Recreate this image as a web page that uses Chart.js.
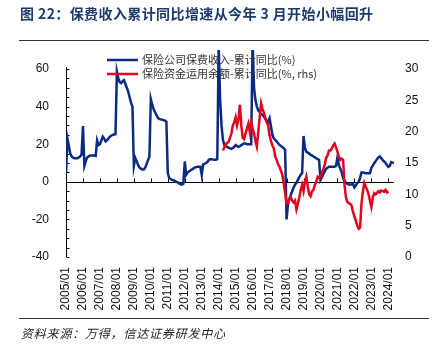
<!DOCTYPE html>
<html>
<head>
<meta charset="utf-8">
<script src="https://cdn.jsdelivr.net/npm/chart.js@4.4.1/dist/chart.umd.min.js"></script>
<style>
  html, body { margin: 0; padding: 0; background: #fff; }
  #wrap { position: relative; width: 439px; height: 356px; overflow: hidden; background: #fff; }
  #c { position: absolute; left: 0; top: 0; }
  .title { position: absolute; left: 20px; top: 3px; font: bold 14px "Noto Sans CJK SC", sans-serif; color: #1d3a6e; letter-spacing: 0.4px; white-space: nowrap; }
  .rule { position: absolute; left: 19px; width: 410px; height: 1px; background: #333; }
  .source { position: absolute; left: 21px; top: 324px; font: italic 12px "Noto Sans CJK SC", sans-serif; color: #222; letter-spacing: 0.8px; white-space: nowrap; }
</style>
</head>
<body>
<div id="wrap">
  <canvas id="c" width="439" height="356"></canvas>
  <div class="title">图 22：保费收入累计同比增速从今年 3 月开始小幅回升</div>
  <div class="rule" style="top:40px"></div>
  <div class="rule" style="top:318px"></div>
  <div class="source">资料来源：万得，信达证券研发中心</div>
</div>
<script>
// ---- data ----
const years = ['2005','2006','2007','2008','2009','2010','2011','2012','2013','2014',
               '2015','2016','2017','2018','2019','2020','2021','2022','2023','2024'];
const months = ['01','02','03','04','05','06','07','08','09','10','11','12'];
const lastLabel = '2024/05';

// 保险公司保费收入-累计同比(%), monthly from 2005/01 (left axis)
const premiumYoY = [
  4, 23, 19, 15, 13.5, 12.8, 12.5, 12.5, 12.5, 13, 13.5, 14.5,          // 2005
  29.7, 8.5, 11, 13, 13.5, 14, 14, 14, 14, 13.8, 22, 19.5,              // 2006
  20, 22, 24, 23, 21.5, 22, 23, 24, 24.5, 25, 25.2, 25.3,               // 2007
  58.6, 55, 53, 52.5, 53.5, 54, 52, 50, 48, 45, 42, 40,                 // 2008
  8.5, 12.7, 11, 9, 7.5, 7, 6.5, 6.5, 7.5, 9.5, 11.5, 13.4,             // 2009
  44, 41, 38.6, 37, 35.5, 34, 33.5, 33.2, 33, 32.8, 32.5, 32,           // 2010
  4.6, 2, 1.5, 1, 0.8, 0.5, 0, -0.3, -0.8, -1.2, -1.5, -1,              // 2011
  10.8, 3.7, 5, 5.5, 6, 6.5, 7, 7.5, 7.8, 8, 8, 8,                      // 2012
  3.7, 9.2, 9.5, 10, 10.5, 11.7, 12, 12, 11.8, 11.7, 11.7, 12,          // 2013
  72, 44, 30, 22.3, 19.6, 19, 18.6, 18.2, 17.8, 17.5, 18, 18.6,         // 2014
  19.6, 19, 18.6, 19, 19.5, 20, 20.5, 20.3, 20, 20, 20, 20,             // 2015
  75, 50, 43.5, 40, 38, 37, 36, 35.6, 34.7, 33.5, 32.5, 31.8,           // 2016
  33.8, 29.4, 25, 23, 22.3, 21.4, 20.5, 19.6, 19, 18.5, 17.9, 17,       // 2017
  -20, -12, -9, -7, -5, -3, -1.5, -0.5, 1, 2.5, 3.7, 4.5,               // 2018
  24.4, 18, 16, 15.5, 15, 14.3, 14, 13.5, 13, 12.5, 12, 11.7,           // 2019
  1, 2.5, 4, 5.5, 7, 7.5, 8, 8, 8, 8, 8, 8.5,                           // 2020
  13, 9, 7, 5, 2, 0.5, -0.5, -1, -1.5, -1.5, -1.5, -1,                  // 2021
  -3, -2, -0.7, 0, 2, 5, 5, 4.8, 4.6, 4.6, 4.6, 4.6,                    // 2022
  7.5, 8.5, 9.9, 11, 12, 13, 13.5, 12.5, 11.5, 10.8, 10, 9,             // 2023
  8, 8.5, 10.5, 10.2, 10                                                 // 2024
];

// 保险资金运用余额-累计同比(%, rhs), monthly from 2014/04 (right axis)
const fundStartLabel = '2014/04';
const fundYoY = [
  17, 17.5, 18, 18.2, 18.4, 19, 19.7, 21, 21.5,                         // 2014/04-12
  22.3, 21, 22, 24.3, 21, 19, 18.8, 19.7, 20.5, 21.3, 20, 21.5,         // 2015
  20.5, 19.7, 18.5, 17.6, 20, 22.3, 24.5, 23.6, 23, 22.1, 21.5, 21,     // 2016
  19.4, 18.5, 17.8, 17.3, 16, 15.5, 14.8, 14.4, 13.8, 13.1, 11.8, 10.2, // 2017
  8.5, 8.6, 9.2, 9.5, 9, 8.7, 9, 7.6, 8.5, 9.5, 10.7, 11.5,             // 2018
  10.5, 12, 12.8, 11.3, 10, 9.7, 10.5, 10.7, 11.5, 12, 12.8, 12.6,      // 2019
  12.8, 13.5, 14, 14.8, 15.8, 16.2, 17, 17, 17.3, 17.8, 18.1, 17.5,     // 2020
  16.8, 16, 15.5, 15.7, 15.5, 11.5, 9.5, 8.8, 8.6, 8.5, 8.2, 7.2,       // 2021
  6.5, 5.8, 5, 4.5, 4.7, 8.5, 10.5, 11.8, 11.2, 10.7, 10, 9,            // 2022
  8, 9.5, 10.2, 10, 10.2, 10.5, 10.3, 10.6, 10.5, 10.4, 10.7, 10.3,     // 2023
  10.5                                                                   // 2024/01
];

const leftTicks = [-40, -20, 0, 20, 40, 60];
const rightTicks = [0, 5, 10, 15, 20, 25, 30];
const seriesNames = ['保险公司保费收入-累计同比(%)', '保险资金运用余额-累计同比(%, rhs)'];
const colors = ['#0a2a84', '#e6001e'];

// ---- build labels / aligned series ----
const labels = [];
outer: for (const y of years) {
  for (const m of months) {
    const l = y + '/' + m;
    labels.push(l);
    if (l === lastLabel) break outer;
  }
}
const fundStart = labels.indexOf(fundStartLabel);
const fundSeries = labels.map((_, i) => {
  const k = i - fundStart;
  return (k >= 0 && k < fundYoY.length) ? fundYoY[k] : null;
});

const FONT = '"Liberation Sans", Arial, sans-serif';

const axesPlugin = {
  id: 'axesPlugin',
  beforeDatasetsDraw(chart) {
    const { ctx, chartArea: a, scales } = chart;
    const x = scales.x, y = scales.y;
    ctx.save();
    ctx.strokeStyle = '#000';
    ctx.lineWidth = 1;
    const y0 = Math.round(y.getPixelForValue(0)) + 0.5;
    ctx.beginPath();
    ctx.moveTo(a.left, y0);
    ctx.lineTo(a.right, y0);
    labels.forEach((l, i) => {
      if (l.endsWith('/01')) {
        const px = Math.round(x.getPixelForValue(i)) + 0.5;
        ctx.moveTo(px, y0);
        ctx.lineTo(px, y0 - 4);
      }
    });
    // left axis line + inner minor ticks
    const xl = Math.round(a.left) + 0.5;
    const yTop = y.getPixelForValue(leftTicks[leftTicks.length - 1]);
    ctx.moveTo(xl, yTop - 2);
    ctx.lineTo(xl, a.bottom);
    for (let v = leftTicks[0]; v <= leftTicks[leftTicks.length - 1]; v += 5) {
      const py = Math.round(y.getPixelForValue(v)) + 0.5;
      ctx.moveTo(xl, py);
      ctx.lineTo(xl + 3, py);
    }
    ctx.stroke();
    ctx.restore();
  },
  afterDatasetsDraw(chart) {
    const { ctx } = chart;
    ctx.save();
    const rows = [60, 74];
    seriesNames.forEach((name, i) => {
      ctx.strokeStyle = colors[i];
      ctx.lineWidth = 2.5;
      ctx.beginPath();
      ctx.moveTo(107, rows[i]);
      ctx.lineTo(138, rows[i]);
      ctx.stroke();
      ctx.fillStyle = '#333';
      ctx.font = '11px "Noto Sans CJK SC", sans-serif';
      ctx.textBaseline = 'middle';
      ctx.textAlign = 'left';
      ctx.fillText(name, 142, rows[i]);
    });
    ctx.restore();
  }
};

new Chart(document.getElementById('c'), {
  type: 'line',
  data: {
    labels: labels,
    datasets: [
      {
        label: seriesNames[1],
        data: fundSeries,
        yAxisID: 'y1',
        borderColor: colors[1],
        borderWidth: 2.5,
        pointRadius: 0,
        tension: 0,
        spanGaps: false,
        order: 0,
        clip: { left: 0, top: 19, right: 2, bottom: 0 }
      },
      {
        label: seriesNames[0],
        data: premiumYoY,
        yAxisID: 'y',
        borderColor: colors[0],
        borderWidth: 2.5,
        pointRadius: 0,
        tension: 0,
        order: 1,
        clip: { left: 0, top: 19, right: 2, bottom: 0 }
      }
    ]
  },
  options: {
    responsive: false,
    animation: false,
    devicePixelRatio: 1,
    layout: { padding: { left: 0, right: 0, top: 69, bottom: 0 } },
    plugins: { legend: { display: false }, tooltip: { enabled: false }, title: { display: false } },
    scales: {
      x: {
        type: 'category',
        offset: false,
        grid: { display: false, drawTicks: false },
        border: { display: false },
        ticks: {
          autoSkip: false,
          minRotation: 90,
          maxRotation: 90,
          padding: 10,
          color: '#111',
          font: { family: FONT, size: 12 },
          callback: function (v, i) { return labels[i].endsWith('/01') ? labels[i] : ''; }
        },
        afterFit: s => { s.height = 99; }
      },
      y: {
        position: 'left',
        min: leftTicks[0],
        max: leftTicks[leftTicks.length - 1],
        grid: { display: false, drawTicks: false },
        border: { display: false },
        ticks: { stepSize: 20, padding: 17, color: '#111', font: { family: FONT, size: 12 } },
        afterFit: s => { s.width = 66; }
      },
      y1: {
        position: 'right',
        min: rightTicks[0],
        max: rightTicks[rightTicks.length - 1],
        grid: { display: false, drawTicks: false },
        border: { display: false },
        ticks: { stepSize: 5, padding: 11, color: '#111', font: { family: FONT, size: 12 } },
        afterFit: s => { s.width = 45; }
      }
    }
  },
  plugins: [axesPlugin]
});
</script>
</body>
</html>
